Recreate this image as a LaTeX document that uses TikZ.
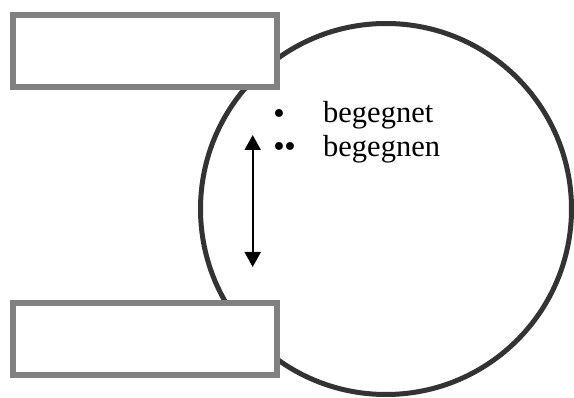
\documentclass[tikz,border=0pt]{standalone}
\usepackage{fontspec}
\setmainfont{Liberation Serif}
\newfontfamily\dotfont{DejaVu Sans}
\usetikzlibrary{arrows.meta}
\definecolor{boxgray}{HTML}{808080}
\definecolor{ringgray}{HTML}{333333}
\tikzset{
  emptybox/.style={draw=boxgray, line width=6pt, fill=white, rectangle, inner sep=0pt,
    minimum width=264pt, minimum height=72pt},
  ring/.style={draw=ringgray, line width=5pt, circle, inner sep=0pt, minimum size=371pt},
  word/.style={inner sep=0pt, anchor=base west, font=\fontsize{30.5}{34}\selectfont},
  dot/.style={inner sep=0pt, anchor=base west, font=\dotfont\fontsize{27}{30}\selectfont},
  dblarrow/.style={line width=2pt, {Triangle[width=16pt,length=15pt]}-{Triangle[width=16pt,length=15pt]}}
}
\begin{document}
\begin{tikzpicture}[x=1pt,y=-1pt]
\useasboundingbox (0,0) rectangle (574,398);
\node[ring] (circ) at (386,209) {};
\node[emptybox] (boxtop) at (145,51) {};
\node[emptybox] (boxbot) at (145,339) {};
\node[dot] (b1) at (271,124) {•};
\node[dot] (b2) at (271,157) {•\kern-5pt•};
\node[word] (w1) at (323,123) {begegnet};
\node[word] (w2) at (323,156.5) {begegnen};
\coordinate (atop) at (252.7,135);
\coordinate (abot) at (252.7,267);
\draw[dblarrow] (atop) -- (abot);
\end{tikzpicture}
\end{document}
